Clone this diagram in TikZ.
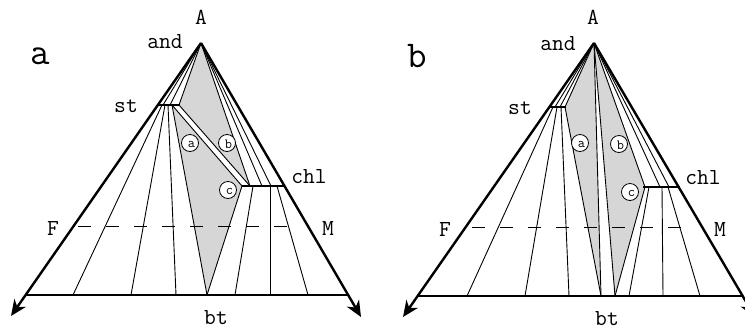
\documentclass[tikz,border=0pt]{standalone}
\usetikzlibrary{arrows.meta}

\begin{document}
\begin{tikzpicture}[
    x=1bp, y=-1bp,
    side/.style={line width=2.4bp, -{Stealth[length=16bp,width=14bp,inset=5bp]}},
    base/.style={line width=2.4bp},
    bar/.style={line width=2.6bp},
    tie/.style={line width=0.9bp},
    field/.style={fill=black!16},
    fm/.style={line width=0.9bp, dash pattern=on 13bp off 15bp},
    phase/.style={font=\ttfamily\fontsize{23}{25}\selectfont, inner sep=0pt},
    panel/.style={font=\ttfamily\fontsize{38}{40}\selectfont, inner sep=0pt},
    pt/.style={circle, draw=black, fill=white, line width=0.8bp, minimum size=17bp, inner sep=0pt},
    ptlbl/.style={inner sep=0pt, font=\ttfamily\fontsize{14}{14}\selectfont}
]
\useasboundingbox (0,0) rectangle (745,330);
\clip (0,0) rectangle (745,330);

% --- Panel a: corners ---
\coordinate (aA) at (201,43);
\coordinate (aF) at (25,295);
\coordinate (aM) at (348,295);
\coordinate (aFend) at (11,316);
\coordinate (aMend) at (361,317);

% --- Panel a: three-phase fields ---
\fill[field] (aA) -- (179,105) -- (250,186) -- cycle;
\fill[field] (172,105) -- (242,186) -- (207,295) -- cycle;

% --- Panel a: tie lines ---
\draw[tie] (aA) -- (163,105);
\draw[tie] (aA) -- (170,105);
\draw[tie] (aA) -- (179,105);
\draw[tie] (aA) -- (250,186);
\draw[tie] (aA) -- (262,186);
\draw[tie] (aA) -- (271,186);
\draw[tie] (162,105) -- (73,295);
\draw[tie] (165,105) -- (131,295);
\draw[tie] (168,105) -- (176,295);
\draw[tie] (172,105) -- (207,295);
\draw[tie] (172,105) -- (242,186);
\draw[tie] (179,105) -- (250,186);
\draw[tie] (242,186) -- (207,295);
\draw[tie] (253,186) -- (235,295);
\draw[tie] (270,186) -- (270,295);
\draw[tie] (277,186) -- (308,295);
\draw[fm] (78,226) -- (295,226);

% --- Panel a: phases and outline ---
\draw[bar] (157,105) -- (180,105);
\draw[bar] (242,186) -- (285,186);
\draw[side] (aA) -- (aFend);
\draw[side] (aA) -- (aMend);
\draw[base] (aF) -- (aM);

\node[pt] (aa) at (190,143) {};
\node[pt] (ab) at (227,143) {};
\node[pt] (ac) at (228,190) {};
\node[ptlbl] (aalbl) at ([shift={(1.5,1.5)}]aa.center) {a};
\node[ptlbl] (ablbl) at ([shift={(1.5,1.5)}]ab.center) {b};
\node[ptlbl] (aclbl) at ([shift={(1.5,1.5)}]ac.center) {c};

\node[phase] (aAlbl) at (201,17) {A};
\node[phase] (aand) at (165,42) {and};
\node[phase] (ast) at (126,106) {st};
\node[phase] (achl) at (309,177) {chl};
\node[phase] (aFlbl) at (53,228) {F};
\node[phase] (aMlbl) at (328,228) {M};
\node[phase] (abt) at (216,318) {bt};
\node[panel] (apanel) at (40,56) {a};

% --- Panel b: corners ---
\coordinate (bA) at (594,43);
\coordinate (bF) at (418,296);
\coordinate (bM) at (743,296);
\coordinate (bFend) at (403,317);
\coordinate (bMend) at (755,317);

% --- Panel b: three-phase fields ---
\fill[field] (bA) -- (565,107) -- (601,296) -- cycle;
\fill[field] (bA) -- (645,187) -- (615,296) -- cycle;

% --- Panel b: tie lines ---
\draw[tie] (bA) -- (555,107);
\draw[tie] (bA) -- (560,107);
\draw[tie] (bA) -- (565,107);
\draw[tie] (bA) -- (601,296);
\draw[tie] (bA) -- (615,296);
\draw[tie] (bA) -- (645,187);
\draw[tie] (bA) -- (660,187);
\draw[tie] (bA) -- (669,187);
\draw[tie] (553,107) -- (467,296);
\draw[tie] (557,107) -- (525,296);
\draw[tie] (561,107) -- (569,296);
\draw[tie] (565,107) -- (601,296);
\draw[tie] (645,187) -- (615,296);
\draw[tie] (649,187) -- (629,296);
\draw[tie] (662,187) -- (663,296);
\draw[tie] (668,187) -- (700,296);
\draw[fm] (472,227) -- (688,227);

% --- Panel b: phases and outline ---
\draw[bar] (550,107) -- (566,107);
\draw[bar] (643,187) -- (680,187);
\draw[side] (bA) -- (bFend);
\draw[side] (bA) -- (bMend);
\draw[base] (bF) -- (bM);

\node[pt] (ba) at (580,143) {};
\node[pt] (bb) at (619,144) {};
\node[pt] (bc) at (630,192) {};
\node[ptlbl] (balbl) at ([shift={(1.5,1.5)}]ba.center) {a};
\node[ptlbl] (bblbl) at ([shift={(1.5,1.5)}]bb.center) {b};
\node[ptlbl] (bclbl) at ([shift={(1.5,1.5)}]bc.center) {c};

\node[phase] (bAlbl) at (593,17) {A};
\node[phase] (band) at (558,44) {and};
\node[phase] (bst) at (520,108) {st};
\node[phase] (bchl) at (703,178) {chl};
\node[phase] (bFlbl) at (445,229) {F};
\node[phase] (bMlbl) at (720,229) {M};
\node[phase] (bbt) at (607,319) {bt};
\node[panel] (bpanel) at (417,56) {b};

\end{tikzpicture}
\end{document}
